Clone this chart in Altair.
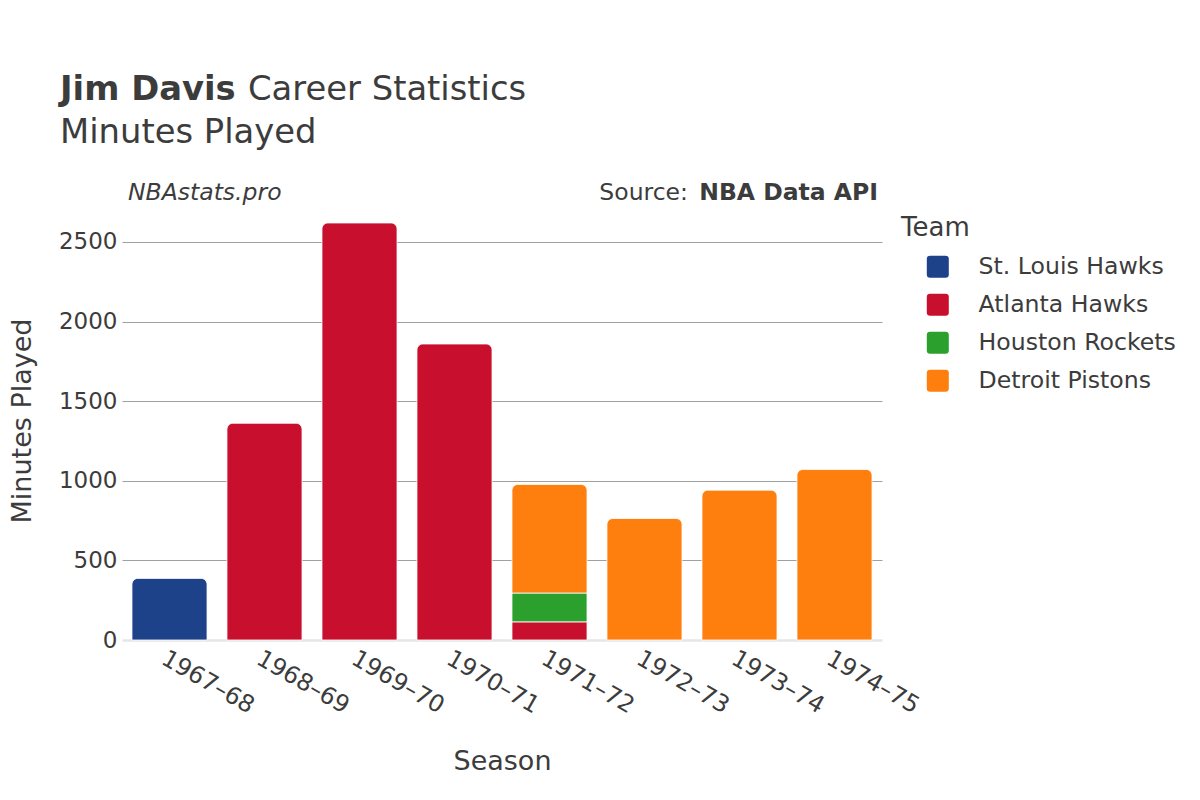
import altair as alt
import pandas as pd

# ---- data ----
seasons = ["1967–68", "1968–69", "1969–70", "1970–71", "1971–72", "1972–73", "1973–74", "1974–75"]
teams = ["St. Louis Hawks", "Atlanta Hawks", "Houston Rockets", "Detroit Pistons"]
team_colors = ["#1D428A", "#C8102E", "#2CA02C", "#FF7F0E"]

st_louis_minutes = [387, 0, 0, 0, 0, 0, 0, 0]
atlanta_minutes = [0, 1361, 2619, 1859, 114, 0, 0, 0]
houston_minutes = [0, 0, 0, 0, 181, 0, 0, 0]
detroit_minutes = [0, 0, 0, 0, 682, 763, 941, 1071]

y_ticks = [0, 500, 1000, 1500, 2000, 2500]

title_bold = "Jim Davis"
title_rest = "Career Statistics"
subtitle = "Minutes Played"
site_note = "NBAstats.pro"
source_label = "Source:"
source_name = "NBA Data API"

rows = []
series = [st_louis_minutes, atlanta_minutes, houston_minutes, detroit_minutes]
for ti, (team, vals) in enumerate(zip(teams, series)):
    for s, v in zip(seasons, vals):
        if v > 0:
            rows.append({"season": s, "team": team, "minutes": v, "order": ti})
df = pd.DataFrame(rows)

FONT = "DejaVu Sans"
TXT = "#3c3c3c"
W, H = 760, 439

rounded_square = "M-0.7,-1L0.7,-1Q1,-1,1,-0.7L1,0.7Q1,1,0.7,1L-0.7,1Q-1,1,-1,0.7L-1,-0.7Q-1,-1,-0.7,-1Z"

bars = (
    alt.Chart(df)
    .transform_stack(stack="minutes", as_=["y0", "y1"], groupby=["season"],
                     sort=[alt.SortField("order", order="ascending")])
    .transform_joinaggregate(top="max(y1)", groupby=["season"])
    .mark_bar(
        stroke="white",
        strokeWidth=0.8,
        cornerRadiusTopLeft=alt.expr("datum.y1 === datum.top ? 6 : 0"),
        cornerRadiusTopRight=alt.expr("datum.y1 === datum.top ? 6 : 0"),
    )
    .encode(
        x=alt.X(
            "season:N",
            sort=seasons,
            scale=alt.Scale(domain=seasons, paddingInner=0.21, paddingOuter=0.105),
            axis=alt.Axis(
                title="Season",
                titleFont=FONT, titleFontSize=27, titleFontWeight="normal", titleColor=TXT,
                titleY=129, titleBaseline="alphabetic",
                labelFont=FONT, labelFontSize=23.7, labelColor=TXT,
                labelAngle=30, labelAlign="left", labelBaseline="top", labelPadding=6,
                ticks=False, domain=False, grid=False,
            ),
        ),
        y=alt.Y(
            "y0:Q",
            scale=alt.Scale(domain=[0, 2757], nice=False, zero=True),
            axis=alt.Axis(
                title="Minutes Played",
                values=y_ticks, format="d",
                titleFont=FONT, titleFontSize=27, titleFontWeight="normal", titleColor=TXT,
                titleX=-92, titleY=H / 2, titleAngle=-90, titleAlign="center", titleBaseline="alphabetic",
                labelFont=FONT, labelFontSize=23, labelColor=TXT, labelPadding=5,
                ticks=False, domain=False, grid=True,
                gridColor={"condition": {"test": "datum.value === 0", "value": "#e6e6e6"}, "value": "#a0a0a0"},
                gridWidth={"condition": {"test": "datum.value === 0", "value": 2.5}, "value": 1},
            ),
        ),
        y2="y1:Q",
        color=alt.Color(
            "team:N",
            scale=alt.Scale(domain=teams, range=team_colors),
            legend=alt.Legend(
                title="Team",
                orient="none", legendX=779, legendY=14,
                titleFont=FONT, titleFontSize=26, titleFontWeight="normal", titleColor=TXT,
                titlePadding=14,
                labelFont=FONT, labelFontSize=23.6, labelColor=TXT, labelLimit=0,
                symbolType=rounded_square, symbolSize=484, symbolStrokeWidth=0,
                symbolOffset=25, labelOffset=29, rowPadding=13,
            ),
        ),
        order=alt.Order("order:Q"),
    )
)

def text_layer(txt, x, y, size, weight="normal", style="normal", align="left"):
    return (
        alt.Chart(pd.DataFrame({"t": [txt]}))
        .mark_text(font=FONT, fontSize=size, fontWeight=weight, fontStyle=style,
                   align=align, baseline="alphabetic", color=TXT)
        .encode(text="t:N", x=alt.value(x), y=alt.value(y))
    )

texts = [
    text_layer(title_bold, -62, -101, 33.8, weight="bold"),
    text_layer(title_rest, 126, -101, 33.8),
    text_layer(subtitle, -62, -58, 33.8),
    text_layer(site_note, 6, -1, 23.5, style="italic"),
    text_layer(source_label, 566, -1, 23.5, align="right"),
    text_layer(source_name, 756, -1, 23.5, weight="bold", align="right"),
]

chart = (
    alt.layer(bars, *texts)
    .properties(
        width=W, height=H,
        autosize=alt.AutoSizeParams(type="none"),
        padding={"left": 114, "top": 193, "right": 310, "bottom": 150},
        background="white",
    )
    .configure_view(stroke=None)
)

chart.save("out.html", embed_options={"renderer": "svg", "actions": False})
